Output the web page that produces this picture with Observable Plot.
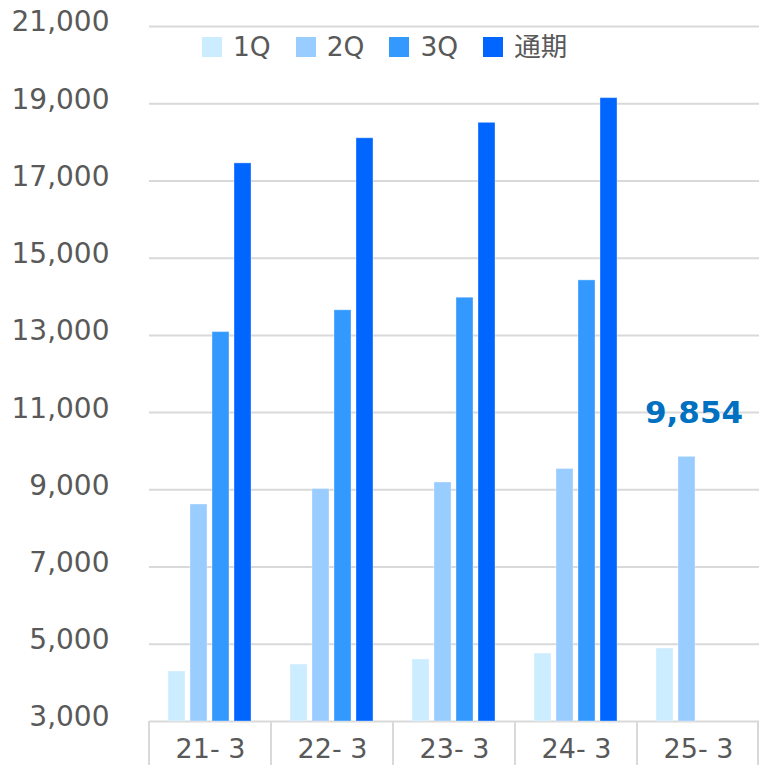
<!DOCTYPE html>
<html>
<head>
<meta charset="utf-8">
<script src="https://cdn.jsdelivr.net/npm/d3@7"></script>
<script src="https://cdn.jsdelivr.net/npm/@observablehq/plot@0.6"></script>
<style>
  body { margin: 0; background: #fff; }
  #wrap { position: relative; width: 759px; height: 765px; }
  #legend { position: absolute; left: 202px; top: 31px; display: flex; gap: 25px;
            font: 26.5px "DejaVu Sans", "Noto Sans CJK JP", sans-serif; color: #595959; line-height: 32px; }
  .item { display: flex; align-items: center; gap: 11px; }
  .sw { width: 20px; height: 20px; }
</style>
</head>
<body>
<div id="wrap"></div>
<script>
// ---- data ----
const categories = ["21-3", "22-3", "23-3", "24-3", "25-3"];
const categoryLabels = ["21- 3", "22- 3", "23- 3", "24- 3", "25- 3"];
const series = ["1Q", "2Q", "3Q", "通期"];
const seriesColors = ["#CCECFF", "#99CCFF", "#3399FF", "#0066FF"];
const q1Values = [4295, 4475, 4605, 4760, 4890];
const q2Values = [8620, 9020, 9190, 9540, 9854];
const q3Values = [13085, 13650, 13975, 14425, null];
const fullYearValues = [17455, 18105, 18505, 19145, null];
const yDomain = [3000, 21000];
const yTicks = [3000, 5000, 7000, 9000, 11000, 13000, 15000, 17000, 19000, 21000];
const annotation = [{category: "25-3", series: "2Q", value: 9854, label: "9,854"}];

// ---- build table ----
const seriesValues = [q1Values, q2Values, q3Values, fullYearValues];
const rows = [];
series.forEach((s, si) => {
  categories.forEach((c, ci) => {
    const v = seriesValues[si][ci];
    if (v != null) rows.push({category: c, series: s, value: v});
  });
});

const font = '"DejaVu Sans", "Noto Sans CJK JP", sans-serif';
const gridColor = "#d9d9d9";
const fmt = d3.format(",");

const chart = Plot.plot({
  width: 759,
  height: 765,
  marginLeft: 148,
  marginRight: 0,
  marginTop: 26,
  marginBottom: 44,
  style: {fontFamily: font, color: "#595959", background: "white", overflow: "visible"},
  fx: {domain: categories, padding: 0, label: null},
  x: {domain: series, paddingInner: 0.22, paddingOuter: 0.86, align: 0.5, axis: null},
  y: {domain: yDomain, label: null},
  color: {domain: series, range: seriesColors},
  marks: [
    Plot.gridY({ticks: yTicks, stroke: gridColor, strokeOpacity: 1, strokeWidth: 2}),
    Plot.barY(rows, {fx: "category", x: "series", y1: yDomain[0], y2: "value", fill: "series",
                     stroke: "white", strokeOpacity: 0.35, strokeWidth: 1}),
    Plot.axisY({ticks: yTicks, tickSize: 0, tickPadding: 40, tickFormat: fmt, fontSize: 28, dy: -4, label: null}),
    Plot.axisFx({anchor: "bottom", tickSize: 0, tickPadding: 17, fontSize: 27, label: null,
                 tickFormat: d => categoryLabels[categories.indexOf(d)]}),
    Plot.text(annotation, {fx: "category", x: "series", y: "value", text: "label",
                           dx: 7, dy: -44, fontSize: 31, fontWeight: "bold", fill: "#0070C0"})
  ]
});

document.getElementById("wrap").appendChild(chart);

// category separators below the axis, positioned from the fx and y scales
const fxScale = chart.scale("fx");
const yScale = chart.scale("y");
const y0 = yScale.apply(yDomain[0]);
const bounds = categories.map(c => fxScale.apply(c));
bounds.push(bounds[bounds.length - 1] + fxScale.step);
const svg = d3.select(chart.tagName.toLowerCase() === "svg" ? chart : chart.querySelector("svg"));
svg.append("g").selectAll("line").data(bounds).join("line")
  .attr("x1", d => Math.min(d, 758))
  .attr("x2", d => Math.min(d, 758))
  .attr("y1", y0)
  .attr("y2", 765)
  .attr("stroke", gridColor)
  .attr("stroke-width", 2);

// legend
const legend = d3.select("#wrap").append("div").attr("id", "legend");
const items = legend.selectAll(".item").data(series).join("div").attr("class", "item");
items.append("div").attr("class", "sw").style("background", (d, i) => seriesColors[i]);
items.append("span").text(d => d);
</script>
</body>
</html>
